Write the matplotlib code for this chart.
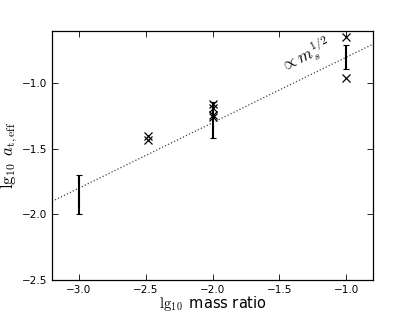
import matplotlib
matplotlib.use("Agg")
import matplotlib.pyplot as plt
import numpy as np

plt.rcParams['mathtext.fontset'] = 'cm'

# error bar data
eb_x = [-3.0, -2.0, -1.0]
eb_y = [-1.85, -1.28, -0.80]
eb_err = [0.15, 0.14, 0.09]

# cross data
cx = [-2.48, -2.48, -2.0, -2.0, -2.0, -2.0, -1.0, -1.0]
cy = [-1.40, -1.435, -1.16, -1.19, -1.24, -1.26, -0.645, -0.96]

# scaling line  y = 0.5 x + b
line_x = [-3.2, -0.8]
slope = 0.5
intercept = -0.3

fig = plt.figure(figsize=(4.15, 3.12), dpi=100)
ax = fig.add_axes([52/415, 1-280/312, (373-52)/415, (280-31)/312])

lx = np.array(line_x)
ax.plot(lx, slope*lx + intercept, linestyle=':', color='#444444', lw=0.9)
ax.errorbar(eb_x, eb_y, yerr=eb_err, fmt='none', ecolor='black', elinewidth=1.5,
            capsize=2.5, capthick=0.8)
ax.plot(cx, cy, 'x', color='black', ms=6, mew=0.9)

ax.text(-1.44, -0.96, r'$\propto m_s^{1/2}$', rotation=26, rotation_mode='anchor',
        ha='left', va='bottom', fontsize=12)

ax.set_xlim(-3.2, -0.8)
ax.set_ylim(-2.5, -0.6)
ax.set_xticks([-3.0, -2.5, -2.0, -1.5, -1.0])
ax.set_yticks([-2.5, -2.0, -1.5, -1.0])
ax.tick_params(direction='in', top=True, right=True, labelsize=7.5, length=4, width=0.6)
for s in ax.spines.values():
    s.set_linewidth(0.9)

ax.set_xlabel(r'$\lg_{10}$ mass ratio', fontsize=10.5, labelpad=-0.5)
ax.set_ylabel(r'$\lg_{10}\ a_{\rm t,eff}$', fontsize=12, labelpad=1)

fig.savefig('out.png', dpi=100)
